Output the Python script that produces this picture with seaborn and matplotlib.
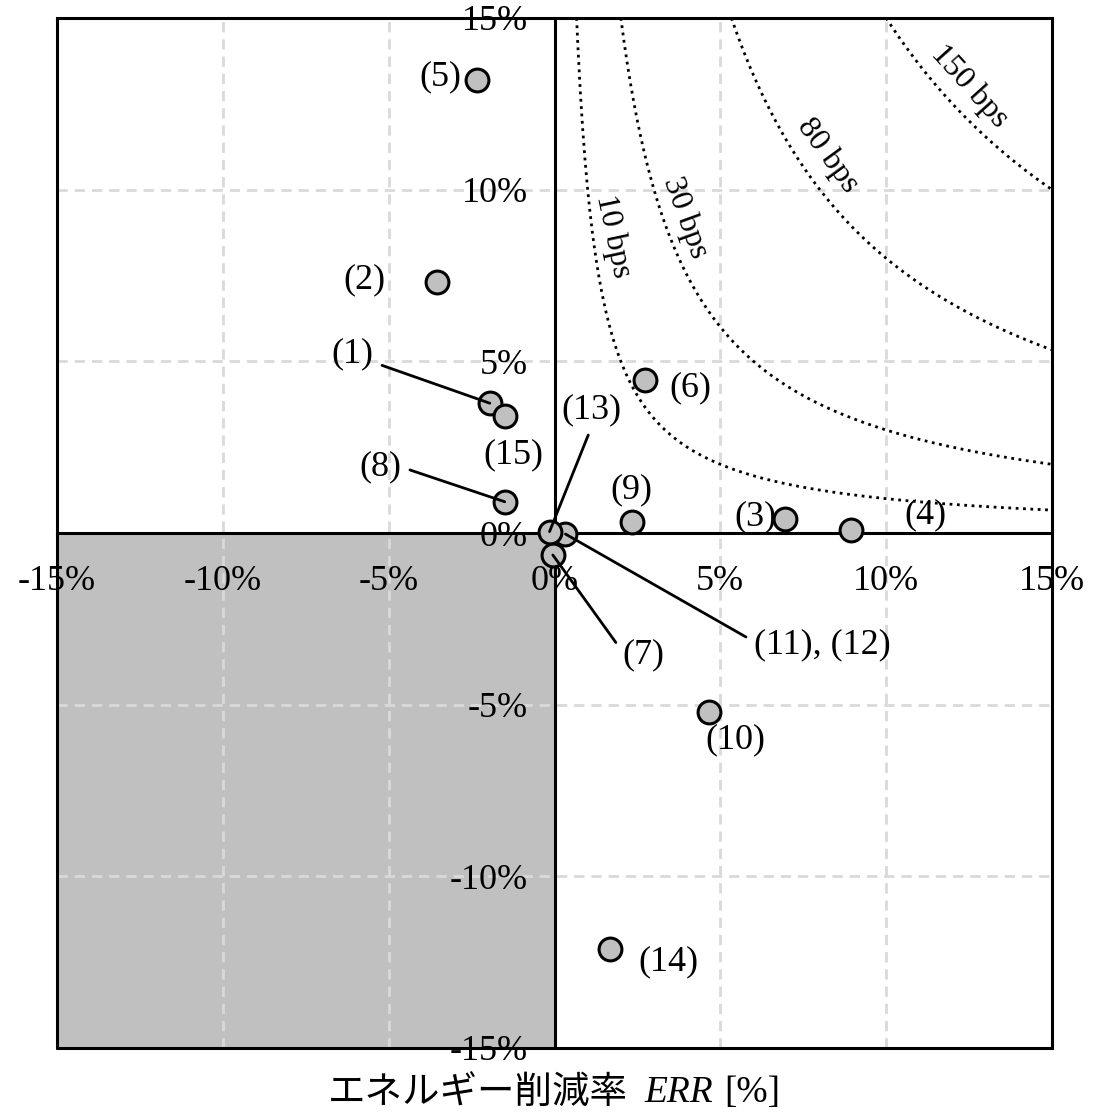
import matplotlib
matplotlib.use("Agg")
import matplotlib.pyplot as plt
import numpy as np
import pandas as pd
import seaborn as sns

# case data: energy reduction rate ERR [%] vs the other axis [%]
case_labels = ["(1)", "(2)", "(3)", "(4)", "(5)", "(6)", "(7)", "(8)",
               "(9)", "(10)", "(11), (12)", "(13)", "(14)", "(15)"]
err_x = [-1.95, -3.53, 6.95, 8.93, -2.35, 2.72, -0.05, -1.50,
         2.35, 4.67, 0.33, -0.15, 1.66, -1.50]
val_y = [3.78, 7.31, 0.42, 0.08, 13.2, 4.46, -0.64, 0.91,
         0.31, -5.21, -0.03, 0.04, -12.12, 3.42]

# label text positions (data coords) and whether a leader line is drawn
label_x = [-6.09, -5.73, 6.06, 11.18, -3.44, 4.10, 2.68, -5.25,
           2.32, 5.46, 8.08, 1.12, 3.44, -1.24]
label_y = [5.21, 7.37, 0.47, 0.52, 13.28, 4.22, -3.55, 1.92,
           1.25, -6.03, -3.26, 3.58, -12.5, 2.27]
leader = [True, False, False, False, False, False, True, True,
          False, False, True, True, False, False]
leader_relpos = {"(1)": (1.0, 0.25), "(8)": (1.0, 0.5), "(13)": (0.5, 0.0),
                 "(7)": (0.0, 0.6), "(11), (12)": (0.0, 0.6)}

# iso-lines x*y = const (bps)
iso_levels = [10, 30, 80, 150]
iso_text_x = [1.78, 3.95, 8.23, 12.5]
iso_text_y = [8.65, 9.2, 11.0, 13.0]
iso_rot = [-78, -70, -54, -48]

ticks = [-15, -10, -5, 0, 5, 10, 15]
lim = 15

df = pd.DataFrame({"x": err_x, "y": val_y, "label": case_labels})

sns.set_theme(style="white")
plt.rcParams["font.family"] = ["Liberation Serif", "Noto Sans CJK JP"]
plt.rcParams["text.color"] = "black"
plt.rcParams["xtick.color"] = "black"
plt.rcParams["ytick.color"] = "black"

fig = plt.figure(figsize=(11.07, 11.17), dpi=100)
ax = fig.add_axes([57 / 1107, 1 - 1048 / 1117, 995 / 1107, 1030 / 1117])
ax.set_xlim(-lim, lim)
ax.set_ylim(-lim, lim)

# shaded lower-left quadrant
ax.fill_between([-lim, 0], -lim, 0, color="#c0c0c0", lw=0, zorder=0.1)

ax.set_axisbelow(True)
ax.grid(True, color="#d9d9d9", lw=2, ls=(0, (3.7, 2.5)))

# iso curves
for c in iso_levels:
    xs = np.linspace(c / lim, lim, 400)
    ax.plot(xs, c / xs, color="black", ls=":", lw=2, zorder=1)
for c, tx, ty, r in zip(iso_levels, iso_text_x, iso_text_y, iso_rot):
    ax.text(tx, ty, f"{c} bps", rotation=r, fontsize=23, color="black",
            ha="center", va="center", rotation_mode="anchor")

sns.scatterplot(data=df, x="x", y="y", ax=ax, s=270, color="#c0c0c0",
                edgecolor="black", linewidth=2.2, zorder=4, legend=False)

for lab, px, py, tx, ty, ld in zip(case_labels, err_x, val_y,
                                   label_x, label_y, leader):
    if ld:
        ax.annotate(lab, xy=(px, py), xytext=(tx, ty), fontsize=26,
                    ha="center", va="center", zorder=5, color="black",
                    arrowprops=dict(arrowstyle="-", color="black", lw=2,
                                    shrinkA=4, shrinkB=0,
                                    relpos=leader_relpos[lab]))
    else:
        ax.text(tx, ty, lab, fontsize=26, ha="center", va="center",
                zorder=5, color="black")

# spines through the origin plus outer frame
for side in ["left", "bottom"]:
    ax.spines[side].set_position("zero")
for side in ax.spines:
    ax.spines[side].set_color("black")
    ax.spines[side].set_linewidth(2.2)
    ax.spines[side].set_zorder(3)
ax.axvline(-lim, color="black", lw=2.2, clip_on=False, zorder=3)
ax.axhline(-lim, color="black", lw=2.2, clip_on=False, zorder=3)

ax.set_xticks(ticks)
ax.set_yticks(ticks)
ax.set_xticklabels([f"{t}%" for t in ticks])
ax.set_yticklabels([f"{t}%" for t in ticks])
ax.tick_params(axis="x", length=0, pad=23, labelsize=26, labelcolor="black")
ax.tick_params(axis="y", length=0, pad=19, labelsize=26, labelcolor="black")
for lbl in ax.get_xticklabels() + ax.get_yticklabels():
    lbl.set_zorder(6)
ax.set_xlabel("")
ax.set_ylabel("")

# x label in three pieces: Japanese text, italic ERR, unit
ylab = 1 - 1093 / 1117
parts = [("エネルギー削減率", dict(family=["Noto Sans CJK JP"])),
         ("ERR", dict(family=["Liberation Serif"], style="italic")),
         ("[%]", dict(family=["Liberation Serif"]))]
gaps = [17, 11]
pieces = [fig.text(0, ylab, s, ha="left", va="center", fontsize=27,
                   color="black", **kw) for s, kw in parts]
fig.canvas.draw()
rend = fig.canvas.get_renderer()
widths = [p.get_window_extent(rend).width for p in pieces]
total = sum(widths) + sum(gaps)
x0 = 554 - total / 2
for i, p in enumerate(pieces):
    p.set_x(x0 / 1107)
    x0 += widths[i] + (gaps[i] if i < len(gaps) else 0)

fig.savefig("out.png", dpi=100)
